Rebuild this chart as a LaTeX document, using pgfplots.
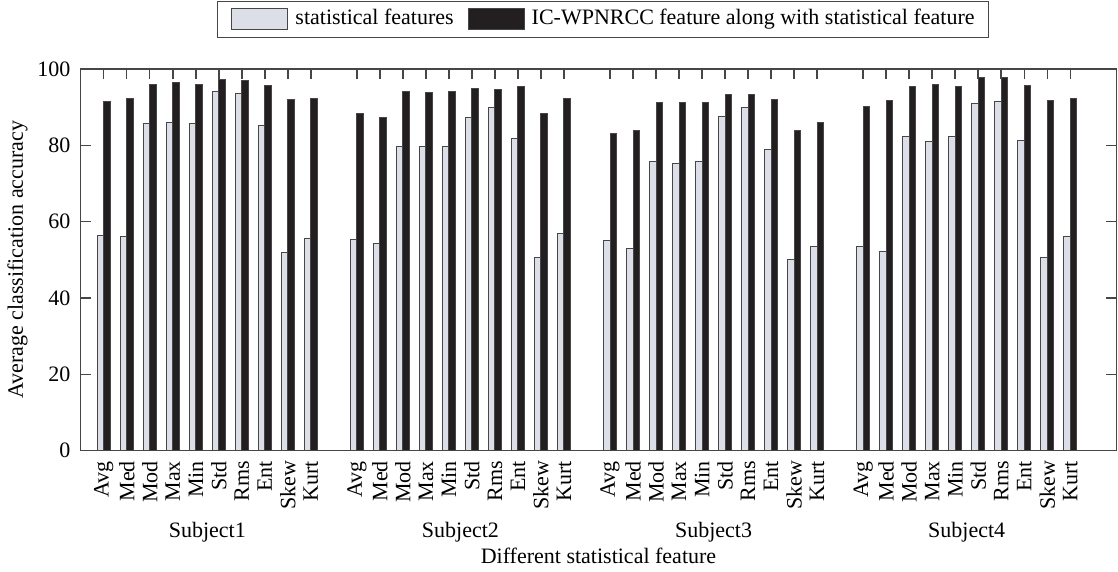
\documentclass[border=0pt]{standalone}
\usepackage{fontspec}
\setmainfont{Liberation Serif}
\usepackage{pgfplots}
\usepackage{pgfplotstable}
\pgfplotsset{compat=1.18}

\definecolor{lightbar}{RGB}{220,222,232}
\definecolor{darkbar}{RGB}{35,31,32}
\definecolor{edge}{RGB}{70,70,70}

% rectangular legend patch
\pgfplotsset{patchlegend/.style={legend image code/.code={%
  \draw[##1] (0pt,-5.25pt) rectangle (28pt,5.25pt);}}}

% x = bar slot (slots 11, 22, 33, 44 separate the subjects)
\pgfplotstableread{
x  stat  ic
1  56.4  91.6
2  56.0  92.4
3  85.8  96.0
4  86.1  96.5
5  85.8  96.0
6  94.1  97.3
7  93.7  97.1
8  85.2  95.8
9  52.0  92.0
10 55.7  92.2
11 0     0
12 55.3  88.3
13 54.2  87.4
14 79.8  94.1
15 79.6  93.9
16 79.8  94.1
17 87.4  94.9
18 89.9  94.6
19 81.8  95.4
20 50.7  88.3
21 57.0  92.3
22 0     0
23 55.1  83.0
24 53.1  83.9
25 75.8  91.2
26 75.3  91.3
27 75.8  91.2
28 87.6  93.4
29 89.9  93.4
30 78.9  92.1
31 50.1  83.8
32 53.4  86.1
33 0     0
34 53.5  90.1
35 52.3  91.7
36 82.3  95.4
37 81.0  95.9
38 82.3  95.4
39 91.0  97.9
40 91.5  97.7
41 81.3  95.8
42 50.7  91.8
43 56.0  92.3
44 0     0
}\accdata

\begin{document}
\fontsize{11}{13}\selectfont
\begin{tikzpicture}
\begin{axis}[
  name=ax,
  scale only axis,
  width=517.8pt, height=190.85pt,
  xmin=0, xmax=45,
  ymin=0, ymax=100,
  ybar=0pt,
  bar width=3.2pt,
  axis line style={draw=edge, line width=0.7pt},
  tick style={draw=edge, line width=0.75pt, opacity=1},
  tick align=inside,
  major tick length=5pt,
  xtick pos=both, ytick pos=both,
  xtick={1,2,3,4,5,6,7,8,9,10,
         12,13,14,15,16,17,18,19,20,21,
         23,24,25,26,27,28,29,30,31,32,
         34,35,36,37,38,39,40,41,42,43},
  xticklabels={Avg,Med,Mod,Max,Min,Std,Rms,Ent,Skew,Kurt,
               Avg,Med,Mod,Max,Min,Std,Rms,Ent,Skew,Kurt,
               Avg,Med,Mod,Max,Min,Std,Rms,Ent,Skew,Kurt,
               Avg,Med,Mod,Max,Min,Std,Rms,Ent,Skew,Kurt},
  xticklabel style={rotate=90, anchor=east, inner sep=0pt, inner xsep=5pt},
  ytick={0,20,...,100},
  yticklabel style={inner sep=0pt, inner xsep=5pt},
  /pgf/number format/assume math mode=true,
  legend columns=2,
  legend style={at={(0.5044,1.1297)}, anchor=center, draw=edge,
    line width=0.6pt, inner xsep=7pt, inner ysep=3.6pt,
    nodes={inner sep=0pt, text height=8pt, text depth=2.5pt},
    /tikz/every odd column/.append style={column sep=3.5pt},
    /tikz/every even column/.append style={column sep=7pt}},
  legend cell align=left,
  clip=false,
]
\addplot[fill=lightbar, draw=edge, line width=0.5pt, patchlegend]
  table[x=x, y=stat] {\accdata};
\addlegendentry{statistical features}
\addplot[fill=darkbar, draw=edge, line width=0.5pt, patchlegend]
  table[x=x, y=ic] {\accdata};
\addlegendentry{IC-WPNRCC feature along with statistical feature}

\node[anchor=base] at ([yshift=-43.5pt]axis cs:5.5,0) {Subject1};
\node[anchor=base] at ([yshift=-43.5pt]axis cs:16.5,0) {Subject2};
\node[anchor=base] at ([yshift=-43.5pt]axis cs:27.5,0) {Subject3};
\node[anchor=base] at ([yshift=-43.5pt]axis cs:38.5,0) {Subject4};
\node[anchor=base] at ([yshift=-56.5pt]rel axis cs:0.5,0) {Different statistical feature};
\node[anchor=base, rotate=90] at ([xshift=-28.9pt]rel axis cs:0,0.5) {Average classification accuracy};
\end{axis}
\pgfresetboundingbox
\path[use as bounding box] ([shift={(-40.35pt,-60.65pt)}]ax.south west)
  rectangle ([shift={(0.85pt,34.5pt)}]ax.north east);
\end{tikzpicture}
\end{document}
